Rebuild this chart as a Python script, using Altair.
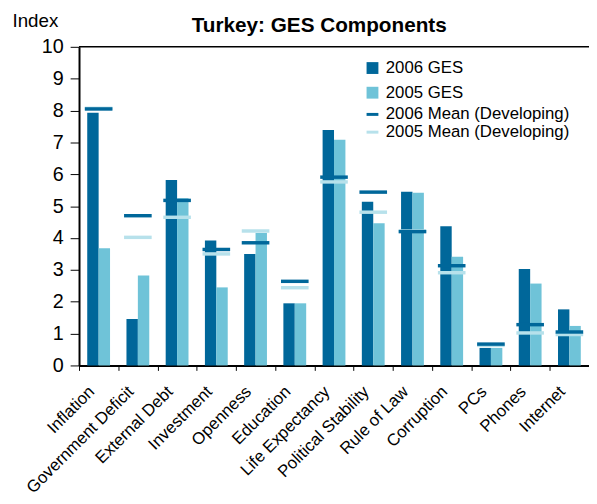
import altair as alt
import pandas as pd

categories = ["Inflation", "Government Deficit", "External Debt", "Investment", "Openness",
              "Education", "Life Expectancy", "Political Stability", "Rule of Law",
              "Corruption", "PCs", "Phones", "Internet"]
ges_2006 = [7.93, 1.46, 5.82, 3.92, 3.50, 1.95, 7.39, 5.14, 5.45, 4.37, 0.55, 3.03, 1.76]
ges_2005 = [3.68, 2.82, 5.25, 2.45, 4.16, 1.95, 7.08, 4.46, 5.42, 3.41, 0.55, 2.57, 1.24]
mean_2006 = [8.05, 4.70, 5.18, 3.64, 3.85, 2.64, 5.91, 5.44, 4.20, 3.13, 0.67, 1.28, 1.05]
mean_2005 = [8.07, 4.02, 4.65, 3.50, 4.22, 2.44, 5.76, 4.81, 4.22, 2.91, 0.63, 1.02, 0.97]

series = ["2006 GES", "2005 GES", "2006 Mean (Developing)", "2005 Mean (Developing)"]
colors = ["#00679A", "#6FC3D8", "#00679A", "#B7E1EB"]

bars = pd.DataFrame(
    [{"cat": c, "series": series[0], "v": v} for c, v in zip(categories, ges_2006)]
    + [{"cat": c, "series": series[1], "v": v} for c, v in zip(categories, ges_2005)]
)
means = pd.DataFrame(
    [{"cat": c, "series": series[2], "v": v} for c, v in zip(categories, mean_2006)]
    + [{"cat": c, "series": series[3], "v": v} for c, v in zip(categories, mean_2005)]
)

font = "Liberation Sans"
W, H = 517, 323

color_scale = alt.Scale(domain=series, range=colors)
legend = alt.Legend(
    title=None, orient="none", legendX=289, legendY=13, padding=0,
    labelFont=font, labelFontSize=17, labelColor="black", labelOffset=5, labelLimit=400,
    symbolSize=144, rowPadding=0,
    symbolType={"expr": "indexof(datum.value, 'Mean') >= 0 ? 'stroke' : 'square'"},
    symbolStrokeColor={"expr": "datum.value == '2005 Mean (Developing)' ? '#B7E1EB' : datum.value == '2006 Mean (Developing)' ? '#00679A' : 'transparent'"},
    symbolStrokeWidth=3,
    symbolOpacity=1,
)

x_enc = alt.X("cat:N", sort=categories, title=None,
              scale=alt.Scale(paddingInner=0, paddingOuter=0),
              axis=alt.Axis(labelAngle=-45, labelFont=font, labelFontSize=17,
                            labelColor="black", tickBand="extent", tickColor="black",
                            tickSize=5, domainColor="black", domainWidth=2,
                            labelPadding=13, labelOffset=-13, labelOverlap=False,
                            labelLimit=400))
y_enc = alt.Y("v:Q", title="Index",
              scale=alt.Scale(domain=[0, 10], nice=False, zero=True),
              axis=alt.Axis(tickCount=10, tickMinStep=1, labelOverlap=False,
                            labelFont=font, labelFontSize=20,
                            labelColor="black", tickColor="black", tickSize=9,
                            domainColor="black", domainWidth=2, grid=False,
                            titleAngle=0, titleX=-68, titleY=-21, titleAlign="left",
                            titleBaseline="alphabetic", titleFont=font, titleFontSize=19,
                            titleFontWeight="normal", titleColor="black", labelPadding=7))

bar_layer = alt.Chart(bars).mark_bar().encode(
    x=x_enc,
    y=y_enc,
    xOffset=alt.XOffset("series:N", sort=series[:2],
                        scale=alt.Scale(paddingInner=0, paddingOuter=0.72)),
    color=alt.Color("series:N", scale=color_scale, legend=legend),
)

tick_layer = alt.Chart(means).mark_tick(thickness=3.5, size=28, opacity=1).encode(
    x=x_enc,
    y=y_enc,
    color=alt.Color("series:N", scale=color_scale, legend=legend),
    order=alt.Order("series:N", sort="ascending"),
)

top_line = alt.Chart(pd.DataFrame({"k": [0]})).mark_rule(color="black", strokeWidth=1.5).encode(
    y=alt.value(0)
)

chart = alt.layer(bar_layer, tick_layer, top_line).properties(
    width=W, height=H,
    title=alt.Title("Turkey: GES Components", font=font, fontSize=21, fontWeight="bold",
                    color="black", anchor="middle", dx=-15, offset=0, dy=25),
    autosize=alt.AutoSizeParams(type="none"),
    padding={"left": 72, "top": 36, "right": 0, "bottom": 130},
).configure_view(strokeWidth=0)

chart.save("out.html", embed_options={"renderer": "svg", "actions": False})
